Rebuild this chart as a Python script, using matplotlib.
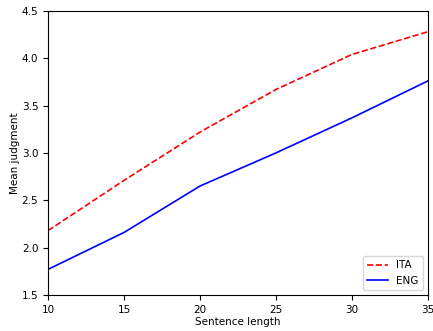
import matplotlib
matplotlib.use("Agg")
import matplotlib.pyplot as plt

lengths = [10, 15, 20, 25, 30, 35]
ita = [2.18, 2.71, 3.22, 3.67, 4.04, 4.28]
eng = [1.77, 2.16, 2.65, 3.00, 3.37, 3.76]

plt.rcParams['font.size'] = 7.5
fig = plt.figure(figsize=(4.33, 3.31), dpi=100)
ax = fig.add_axes([0.111, 0.109, 0.877, 0.858])
ax.plot(lengths, ita, 'r--', label='ITA', linewidth=1.2)
ax.plot(lengths, eng, 'b-', label='ENG', linewidth=1.2)
ax.set_xlim(10, 35)
ax.set_ylim(1.5, 4.5)
ax.set_xlabel('Sentence length', labelpad=2)
ax.set_ylabel('Mean judgment', labelpad=1)
ax.legend(loc='lower right')
fig.savefig('out.png', dpi=100)
